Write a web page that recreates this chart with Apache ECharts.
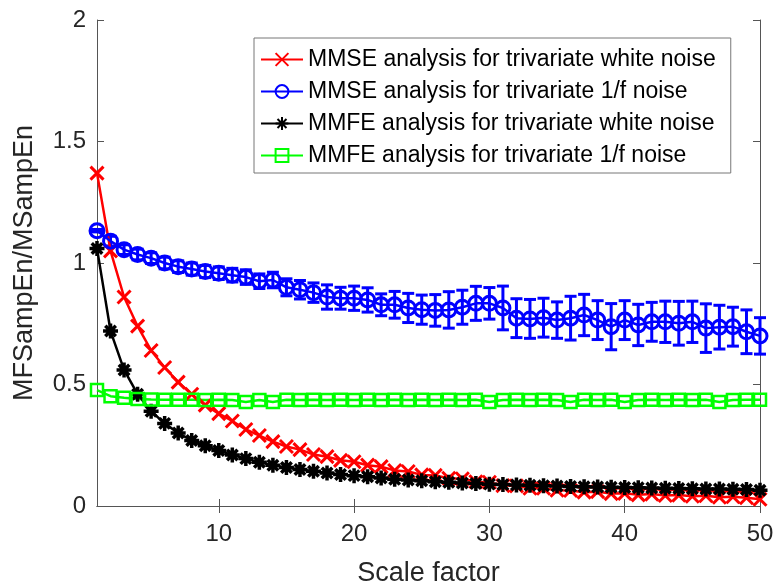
<!DOCTYPE html>
<html>
<head>
<meta charset="utf-8">
<script src="https://cdn.jsdelivr.net/npm/echarts@6/dist/echarts.min.js"></script>
<style>
html,body{margin:0;padding:0;background:#fff;}
#chart{width:775px;height:584px;}
</style>
</head>
<body>
<div id="chart"></div>
<script>
// ---- data ----
const scales = [];
for (let i = 1; i <= 50; i++) scales.push(i);

const mmseWhite = [1.37,1.05,0.86,0.74,0.64,0.57,0.51,0.46,0.415,0.38,
  0.35,0.315,0.29,0.265,0.245,0.232,0.212,0.203,0.188,0.182,
  0.168,0.162,0.146,0.142,0.128,0.126,0.114,0.112,0.1,0.098,
  0.084,0.083,0.073,0.073,0.065,0.064,0.057,0.059,0.051,0.052,
  0.046,0.049,0.043,0.045,0.04,0.042,0.036,0.038,0.034,0.028];

const mmse1f = [1.133,1.09,1.055,1.035,1.02,1.0,0.985,0.975,0.965,0.958,
  0.95,0.942,0.925,0.93,0.9,0.89,0.878,0.86,0.855,0.855,
  0.848,0.828,0.828,0.815,0.808,0.805,0.807,0.818,0.834,0.834,
  0.815,0.773,0.77,0.775,0.765,0.773,0.786,0.765,0.738,0.765,
  0.745,0.758,0.758,0.752,0.758,0.732,0.736,0.738,0.717,0.70];

const mmse1fErr = [0.005,0.02,0.02,0.022,0.022,0.024,0.024,0.025,0.025,0.026,
  0.028,0.03,0.03,0.032,0.035,0.038,0.04,0.05,0.045,0.05,
  0.05,0.045,0.055,0.06,0.06,0.065,0.075,0.07,0.07,0.065,
  0.09,0.08,0.08,0.08,0.075,0.09,0.085,0.08,0.095,0.08,
  0.085,0.08,0.085,0.09,0.085,0.1,0.09,0.08,0.09,0.075];

const mmfeWhite = [1.06,0.72,0.56,0.46,0.39,0.34,0.30,0.27,0.248,0.228,
  0.21,0.195,0.18,0.168,0.158,0.15,0.143,0.136,0.13,0.125,
  0.12,0.115,0.11,0.107,0.104,0.1,0.098,0.095,0.093,0.09,
  0.088,0.086,0.085,0.083,0.082,0.08,0.079,0.078,0.077,0.076,
  0.075,0.074,0.073,0.072,0.071,0.07,0.07,0.069,0.068,0.065];

const mmfe1f = [0.477,0.452,0.445,0.44,0.438,0.437,0.437,0.437,0.436,0.437,
  0.436,0.428,0.436,0.428,0.437,0.436,0.437,0.436,0.437,0.436,
  0.437,0.436,0.437,0.436,0.437,0.436,0.437,0.436,0.437,0.428,
  0.436,0.437,0.436,0.437,0.436,0.428,0.437,0.436,0.437,0.428,
  0.436,0.437,0.436,0.437,0.436,0.437,0.428,0.436,0.437,0.437];

const legendNames = [
  'MMSE analysis for trivariate white noise',
  'MMSE analysis for trivariate 1/f noise',
  'MMFE analysis for trivariate white noise',
  'MMFE analysis for trivariate 1/f noise'
];
const xTicks = [10, 20, 30, 40, 50];
const xAxisTitle = 'Scale factor';
const yAxisTitle = 'MFSampEn/MSampEn';

// ---- build ----
const FONT = 'Liberation Sans, Arial, Helvetica, sans-serif';
const AX = '#555';
const pair = (arr) => arr.map((v, i) => [scales[i], v]);
const errData = mmse1f.map((v, i) => [scales[i], v - mmse1fErr[i], v + mmse1fErr[i]]);

const xSymbol = 'path://M0,0L10,10M10,0L0,10';
const starSymbol = 'path://M5,0L5,10M0,5L10,5M1.5,1.5L8.5,8.5M8.5,1.5L1.5,8.5';

function lineSeries(name, data, color, symbol, size, bw) {
  return {
    name: name, type: 'line', data: data,
    symbol: symbol, symbolSize: size, showSymbol: true,
    lineStyle: {color: color, width: 2.5},
    itemStyle: {color: 'rgba(0,0,0,0)', borderColor: color, borderWidth: bw},
    emphasis: {disabled: true},
    animation: false, z: 3
  };
}

const chart = echarts.init(document.getElementById('chart'), null, {renderer: 'canvas'});
const option = {
  animation: false,
  backgroundColor: '#fff',
  textStyle: {fontFamily: FONT},
  grid: {left: 97, right: 15, top: 20, bottom: 78, containLabel: false, outerBoundsMode: 'none'},
  legend: {
    data: legendNames,
    orient: 'vertical',
    left: 254, top: 38,
    padding: [10, 15, 6, 6],
    itemGap: 9,
    itemWidth: 42, itemHeight: 16,
    backgroundColor: '#fff',
    borderColor: '#777', borderWidth: 1,
    textStyle: {fontSize: 23, lineHeight: 23, color: '#000', fontFamily: FONT},
    selectedMode: false
  },
  xAxis: [{
    type: 'value', min: 1, max: 50, position: 'bottom',
    name: xAxisTitle, nameLocation: 'middle', nameGap: 54,
    nameTextStyle: {fontSize: 27, color: '#262626', fontFamily: FONT},
    axisLine: {show: true, lineStyle: {color: AX, width: 1}},
    axisTick: {show: true, inside: true, length: 7, lineStyle: {color: AX}, customValues: xTicks},
    axisLabel: {fontSize: 24, color: '#262626', margin: 16, fontFamily: FONT, customValues: xTicks},
    splitLine: {show: false}
  }, {
    type: 'value', min: 1, max: 50, position: 'top',
    axisLine: {show: true, lineStyle: {color: AX, width: 1}},
    axisTick: {show: true, inside: true, length: 7, lineStyle: {color: AX}, customValues: xTicks},
    axisLabel: {show: false, customValues: xTicks},
    splitLine: {show: false}
  }],
  yAxis: [{
    type: 'value', min: 0, max: 2, interval: 0.5, position: 'left',
    name: yAxisTitle, nameLocation: 'middle', nameGap: 59,
    nameTextStyle: {fontSize: 27, color: '#262626', fontFamily: FONT},
    axisLine: {show: true, lineStyle: {color: AX, width: 1}},
    axisTick: {show: true, inside: true, length: 7, lineStyle: {color: AX}},
    axisLabel: {fontSize: 24, color: '#262626', margin: 11, fontFamily: FONT},
    splitLine: {show: false}
  }, {
    type: 'value', min: 0, max: 2, interval: 0.5, position: 'right',
    axisLine: {show: true, lineStyle: {color: AX, width: 1}},
    axisTick: {show: true, inside: true, length: 7, lineStyle: {color: AX}},
    axisLabel: {show: false},
    splitLine: {show: false}
  }],
  series: [
    lineSeries(legendNames[0], pair(mmseWhite), '#ff0000', xSymbol, 13, 3),
    lineSeries(legendNames[1], pair(mmse1f), '#0000ff', 'circle', 14, 3),
    {
      name: 'errbar', type: 'custom', data: errData, z: 3,
      encode: {x: 0, y: [1, 2]},
      renderItem: function (params, api) {
        const x = api.value(0);
        const lo = api.coord([x, api.value(1)]);
        const hi = api.coord([x, api.value(2)]);
        const cw = 6;
        const st = {stroke: '#0000ff', lineWidth: 3};
        return {
          type: 'group',
          children: [
            {type: 'line', shape: {x1: lo[0], y1: lo[1], x2: hi[0], y2: hi[1]}, style: st},
            {type: 'line', shape: {x1: lo[0] - cw, y1: lo[1], x2: lo[0] + cw, y2: lo[1]}, style: st},
            {type: 'line', shape: {x1: hi[0] - cw, y1: hi[1], x2: hi[0] + cw, y2: hi[1]}, style: st}
          ]
        };
      },
      animation: false
    },
    lineSeries(legendNames[2], pair(mmfeWhite), '#000000', starSymbol, 15, 3.5),
    lineSeries(legendNames[3], pair(mmfe1f), '#00ff00', 'rect', 12, 2.5)
  ]
};
chart.setOption(option);
</script>
</body>
</html>
